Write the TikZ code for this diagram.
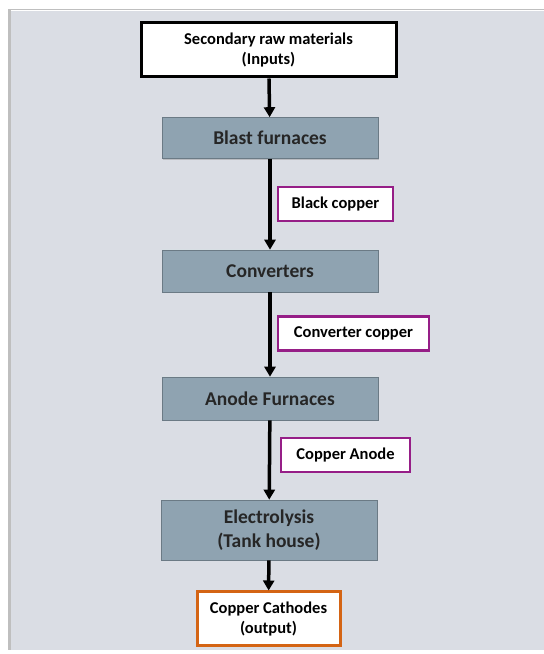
\documentclass[tikz,border=0pt]{standalone}
\usepackage{fontspec}
\setmainfont{Carlito}
\usetikzlibrary{arrows.meta,shadows}

\definecolor{panelgray}{RGB}{218,221,228}
\definecolor{stageblue}{RGB}{143,163,177}
\definecolor{tagpurple}{RGB}{150,30,135}
\definecolor{outorange}{RGB}{212,100,20}

\tikzset{
  stage/.style={rectangle, fill=stageblue, draw=stageblue!75!black, line width=0.6pt,
    minimum width=216pt, font=\fontsize{19.5}{24}\selectfont\bfseries, text=black!85,
    align=center, drop shadow={opacity=0.35, shadow xshift=1pt, shadow yshift=-1.5pt},
    path picture={\draw[stageblue!35!white, line width=2pt]
      (path picture bounding box.north west) -- (path picture bounding box.north east);}},
  tag/.style={rectangle, fill=white, draw=tagpurple, line width=2.6pt,
    minimum height=34pt, font=\fontsize{16.5}{19}\selectfont\bfseries},
  endbox/.style={rectangle, fill=white, line width=3pt, align=center,
    font=\fontsize{16.5}{20}\selectfont\bfseries},
  flow/.style={line width=3.5pt, -{Triangle[width=11pt,length=10pt]}}
}

\begin{document}
\begin{tikzpicture}[x=1pt,y=1pt]
  \useasboundingbox (0,0) rectangle (544,654);
  % backdrop
  \fill[black!25] (8,4) rectangle (544,645);
  \fill[panelgray] (11,4) rectangle (544,644);
  \draw[white, line width=0.8pt] (11,644) -- (544,644);

  % main chain
  \node[endbox, draw=black, minimum width=255pt, minimum height=54pt] (input) at (268.5,604)
    {Secondary raw materials\\(Inputs)};
  \node[stage, minimum height=41pt] (blast) at (270,516) {Blast furnaces};
  \node[stage, minimum height=42pt] (conv) at (270,383) {Converters};
  \node[stage, minimum height=43pt] (anode) at (270,255.5) {Anode Furnaces};
  \node[stage, minimum height=60pt] (elec) at (269,124) {Electrolysis\\(Tank house)};
  \node[endbox, draw=outorange, minimum width=143pt, minimum height=54pt] (output) at (268.5,35)
    {Copper Cathodes\\(output)};

  % intermediate products
  \node[tag, minimum width=115pt] (black) at (335.5,450) {Black copper};
  \node[tag, minimum width=151pt] (convcu) at (353.5,320.5) {Converter copper};
  \node[tag, minimum width=129pt] (anodecu) at (345.5,199) {Copper Anode};

  \draw[flow] (input) -- (blast);
  \draw[flow] (blast) -- (conv);
  \draw[flow] (conv) -- (anode);
  \draw[flow] (anode) -- (elec);
  \draw[flow] (elec) -- (output);
\end{tikzpicture}
\end{document}
